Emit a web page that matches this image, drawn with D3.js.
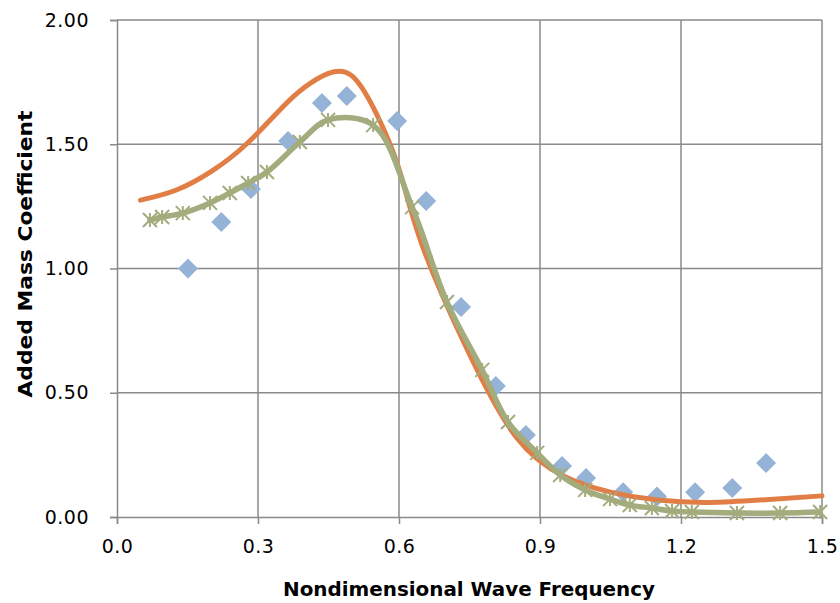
<!DOCTYPE html>
<html>
<head>
<meta charset="utf-8">
<script src="https://cdn.jsdelivr.net/npm/d3@7"></script>
<style>
  body { margin: 0; background: #fff; }
  text { font-family: "DejaVu Sans", sans-serif; fill: #000; }
</style>
</head>
<body>
<div id="chart"></div>
<script>
// measured points (diamonds)
const measX = [0.151, 0.222, 0.285, 0.364, 0.436, 0.489, 0.596, 0.658, 0.732, 0.806, 0.870, 0.947, 0.998, 1.077, 1.149, 1.230, 1.309, 1.381];
const measY = [1.000, 1.187, 1.320, 1.513, 1.666, 1.694, 1.594, 1.272, 0.845, 0.527, 0.330, 0.205, 0.157, 0.100, 0.082, 0.100, 0.117, 0.217];

// orange smooth curve
const curveAX = [0.05, 0.125, 0.20, 0.275, 0.35, 0.40, 0.45, 0.50, 0.55, 0.60, 0.65, 0.75, 0.85, 0.95, 1.05, 1.15, 1.25, 1.35, 1.50];
const curveAY = [1.275, 1.315, 1.39, 1.50, 1.645, 1.73, 1.785, 1.775, 1.63, 1.40, 1.09, 0.655, 0.32, 0.165, 0.10, 0.068, 0.058, 0.066, 0.085];

// green curve with star markers
const curveBX = [0.070, 0.096, 0.140, 0.198, 0.240, 0.279, 0.319, 0.389, 0.449, 0.545, 0.628, 0.702, 0.777, 0.832, 0.894, 0.943, 0.996, 1.049, 1.091, 1.138, 1.181, 1.223, 1.319, 1.411, 1.496];
const curveBY = [1.195, 1.207, 1.223, 1.264, 1.304, 1.344, 1.388, 1.509, 1.598, 1.577, 1.247, 0.865, 0.592, 0.382, 0.258, 0.169, 0.109, 0.072, 0.048, 0.036, 0.024, 0.020, 0.016, 0.016, 0.020];

const xTicks = [0, 0.3, 0.6, 0.9, 1.2, 1.5];
const yTicks = [0, 0.5, 1.0, 1.5, 2.0];

const width = 840, height = 603;
const plotLeft = 117, plotRight = 822, plotTop = 20, plotBottom = 517;

const svg = d3.select('#chart').append('svg')
  .attr('width', width)
  .attr('height', height);

const x = d3.scaleLinear().domain([0, 1.5]).range([plotLeft, plotRight]);
const y = d3.scaleLinear().domain([0, 2]).range([plotBottom, plotTop]);

const gridColor = '#8a8a8a';

// gridlines
svg.append('g').selectAll('line')
  .data(xTicks.slice(1))
  .enter().append('line')
  .attr('x1', d => x(d)).attr('x2', d => x(d))
  .attr('y1', plotTop).attr('y2', plotBottom)
  .attr('stroke', gridColor).attr('stroke-width', 1.5);

svg.append('g').selectAll('line')
  .data(yTicks.slice(1))
  .enter().append('line')
  .attr('x1', plotLeft).attr('x2', plotRight)
  .attr('y1', d => y(d)).attr('y2', d => y(d))
  .attr('stroke', gridColor).attr('stroke-width', 1.5);

// axes
const xAxis = svg.append('g')
  .attr('transform', 'translate(0,' + plotBottom + ')')
  .call(d3.axisBottom(x).tickValues(xTicks).tickFormat(d3.format('.1f')).tickSize(7).tickPadding(16));
const yAxis = svg.append('g')
  .attr('transform', 'translate(' + plotLeft + ',0)')
  .call(d3.axisLeft(y).tickValues(yTicks).tickFormat(d3.format('.2f')).tickSize(7).tickPadding(21));

[xAxis, yAxis].forEach(a => {
  a.select('.domain').attr('stroke', gridColor).attr('stroke-width', 1.5);
  a.selectAll('.tick line').attr('stroke', gridColor).attr('stroke-width', 1.5);
  a.selectAll('.tick text')
    .style('font-family', '"DejaVu Sans", sans-serif')
    .style('font-size', '19px')
    .style('letter-spacing', '0.5px')
    .attr('fill', '#000');
});

// diamonds
const meas = measX.map((d, i) => [d, measY[i]]);
svg.append('g').selectAll('path')
  .data(meas)
  .enter().append('path')
  .attr('d', d3.symbol(d3.symbolSquare, 200))
  .attr('transform', d => 'translate(' + x(d[0]) + ',' + y(d[1]) + ') rotate(45)')
  .attr('fill', '#95b3d7');

const lineA = d3.line()
  .x(d => x(d[0]))
  .y(d => y(d[1]))
  .curve(d3.curveNatural);

const lineB = d3.line()
  .x(d => x(d[0]))
  .y(d => y(d[1]))
  .curve(d3.curveCatmullRom.alpha(0.5));

const seriesA = curveAX.map((d, i) => [d, curveAY[i]]);
svg.append('path')
  .datum(seriesA)
  .attr('d', lineA)
  .attr('fill', 'none')
  .attr('stroke', '#e07e45')
  .attr('stroke-width', 5)
  .attr('stroke-linecap', 'round');

const seriesB = curveBX.map((d, i) => [d, curveBY[i]]);
const green = '#a3ac7d';
svg.append('path')
  .datum(seriesB)
  .attr('d', lineB)
  .attr('fill', 'none')
  .attr('stroke', green)
  .attr('stroke-width', 5.5)
  .attr('stroke-linecap', 'round');

// star markers
const r = 7;
const stars = svg.append('g').selectAll('g')
  .data(seriesB)
  .enter().append('g')
  .attr('transform', d => 'translate(' + x(d[0]) + ',' + y(d[1]) + ')');
stars.append('path')
  .attr('d', 'M' + (-r) + ',' + (-r) + 'L' + r + ',' + r + 'M' + (-r) + ',' + r + 'L' + r + ',' + (-r) + 'M0,' + (-r) + 'L0,' + r)
  .attr('stroke', green)
  .attr('stroke-width', 2)
  .attr('fill', 'none');

// axis titles
svg.append('text')
  .attr('x', 469)
  .attr('y', 596)
  .attr('text-anchor', 'middle')
  .attr('textLength', 372)
  .attr('lengthAdjust', 'spacingAndGlyphs')
  .style('font-size', '19px')
  .style('font-weight', 'bold')
  .text('Nondimensional Wave Frequency');

svg.append('text')
  .attr('transform', 'translate(32,' + 254 + ') rotate(-90)')
  .attr('text-anchor', 'middle')
  .attr('textLength', 287)
  .attr('lengthAdjust', 'spacingAndGlyphs')
  .style('font-size', '19px')
  .style('font-weight', 'bold')
  .text('Added Mass Coefficient');
</script>
</body>
</html>
